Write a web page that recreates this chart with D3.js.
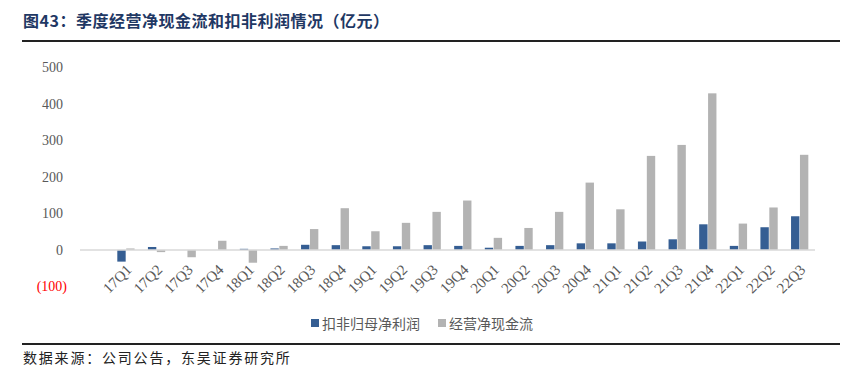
<!DOCTYPE html>
<html>
  <head>
    <meta charset="utf-8">
    <script src="https://cdn.jsdelivr.net/npm/d3@7"></script>
    <style>
      body { margin: 0; background: #fff; }
      svg { display: block; }
    </style>
  </head>
  <body>
    <script>
      // Quarters (the chart keeps an empty slot before 17Q1)
      var quarters = ["17Q1", "17Q2", "17Q3", "17Q4", "18Q1", "18Q2", "18Q3", "18Q4",
                      "19Q1", "19Q2", "19Q3", "19Q4", "20Q1", "20Q2", "20Q3", "20Q4",
                      "21Q1", "21Q2", "21Q3", "21Q4", "22Q1", "22Q2", "22Q3"];
      // 扣非归母净利润
      var netProfit = [-32, 8, 0, 0, 3, 4, 14, 13, 10, 10, 13, 11, 6, 11, 13, 18,
                       18, 23, 29, 70, 11, 62, 92];
      // 经营净现金流
      var cashFlow = [4, -6, -20, 25, -35, 11, 57, 114, 51, 74, 104, 135, 33, 60, 104, 184,
                      111, 257, 287, 428, 72, 116, 260];
      var seriesNames = ["扣非归母净利润", "经营净现金流"];
      var seriesColors = ["#355E93", "#B3B3B3"];
      var yTicks = [-100, 0, 100, 200, 300, 400, 500];

      var width = 862, height = 372;
      var svg = d3.select("body").append("svg")
                  .attr("width", width)
                  .attr("height", height);

      // Title and rules
      svg.append("text")
         .attr("x", 23).attr("y", 27)
         .attr("font-family", "Noto Sans CJK SC")
         .attr("font-weight", "bold")
         .attr("font-size", 16)
         .attr("letter-spacing", 0.5)
         .attr("fill", "#1F3864")
         .text("图43：季度经营净现金流和扣非利润情况（亿元）");
      svg.append("line")
         .attr("x1", 22).attr("x2", 840).attr("y1", 41).attr("y2", 41)
         .attr("stroke", "#222").attr("stroke-width", 2);
      svg.append("line")
         .attr("x1", 22).attr("x2", 840).attr("y1", 344).attr("y2", 344)
         .attr("stroke", "#222").attr("stroke-width", 2);
      svg.append("text")
         .attr("x", 23).attr("y", 363)
         .attr("font-family", "Noto Sans CJK SC")
         .attr("font-size", 14)
         .attr("letter-spacing", 1.8)
         .attr("fill", "#222")
         .text("数据来源：公司公告，东吴证券研究所");

      // Scales
      var x = d3.scaleBand()
                .domain([""].concat(quarters))
                .range([80, 815]);
      var xSub = d3.scaleBand()
                   .domain(seriesNames)
                   .range([0, x.bandwidth()])
                   .paddingInner(0.06)
                   .paddingOuter(0.75);
      var y = d3.scaleLinear()
                .domain([-100, 500])
                .range([286.5, 67]);

      // Y axis labels
      var yAxis = d3.axisLeft(y).tickValues(yTicks).tickSize(0).tickPadding(0)
                    .tickFormat(function(d) { return d < 0 ? "(" + Math.abs(d) + ")" : d; });
      var gy = svg.append("g")
                  .attr("transform", "translate(63,0)")
                  .call(yAxis);
      gy.select(".domain").remove();
      gy.selectAll("text")
        .attr("font-family", "Liberation Serif")
        .attr("font-size", 14)
        .attr("dx", function(d) { return d < 0 ? 4 : 0; })
        .attr("fill", function(d) { return d < 0 ? "#FF0000" : "#595959"; });

      // Bars
      var rows = quarters.map(function(q, i) {
        return { q: q, vals: [netProfit[i], cashFlow[i]] };
      });
      var groups = svg.selectAll("g.grp")
                      .data(rows)
                      .enter()
                      .append("g")
                      .attr("class", "grp")
                      .attr("transform", function(d) { return "translate(" + x(d.q) + ",0)"; });
      groups.selectAll("rect")
            .data(function(d) { return d.vals; })
            .enter()
            .append("rect")
            .attr("x", function(d, i) { return xSub(seriesNames[i]); })
            .attr("width", xSub.bandwidth())
            .attr("y", function(d) { return y(Math.max(0, d)); })
            .attr("height", function(d) { return Math.abs(y(d) - y(0)); })
            .attr("fill", function(d, i) { return seriesColors[i]; });

      // Zero line
      svg.append("line")
         .attr("x1", 80).attr("x2", 815)
         .attr("y1", y(0)).attr("y2", y(0))
         .attr("stroke", "#D9D9D9").attr("stroke-width", 1.5);

      // X labels, rotated
      svg.selectAll("text.xl")
         .data(quarters)
         .enter()
         .append("text")
         .attr("class", "xl")
         .attr("transform", function(d) {
           return "translate(" + (x(d) + x.bandwidth() / 2 + 3) + "," + 267 + ") rotate(-45)";
         })
         .attr("text-anchor", "end")
         .attr("dy", "0.35em")
         .attr("font-family", "Liberation Serif")
         .attr("font-size", 15)
         .attr("fill", "#595959")
         .text(function(d) { return d; });

      // Legend
      var legend = svg.append("g").attr("transform", "translate(311,324)");
      var legX = [0, 127];
      seriesNames.forEach(function(name, i) {
        legend.append("rect")
              .attr("x", legX[i]).attr("y", -5)
              .attr("width", 8).attr("height", 8)
              .attr("fill", seriesColors[i]);
        legend.append("text")
              .attr("x", legX[i] + 11).attr("y", 0)
              .attr("dy", "0.35em")
              .attr("font-family", "Noto Sans CJK SC")
              .attr("font-size", 14)
              .attr("fill", "#595959")
              .text(name);
      });
    </script>
  </body>
</html>
